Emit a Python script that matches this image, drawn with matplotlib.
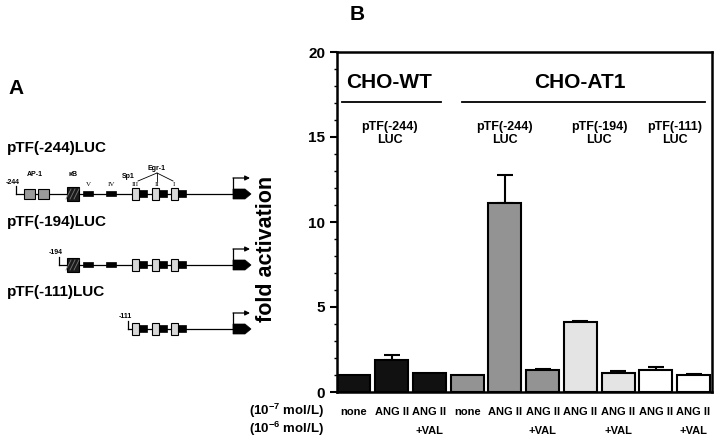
import matplotlib
matplotlib.use("Agg")
import matplotlib.pyplot as plt
from matplotlib.patches import Rectangle, Polygon
from matplotlib.transforms import blended_transform_factory
import numpy as np

plt.rcParams['font.family'] = ['Liberation Sans', 'DejaVu Sans']
plt.rcParams['font.weight'] = 'bold'
plt.rcParams['mathtext.fontset'] = 'custom'
plt.rcParams['mathtext.rm'] = 'Liberation Sans:bold'
plt.rcParams['mathtext.bf'] = 'Liberation Sans:bold'
plt.rcParams['mathtext.it'] = 'Liberation Sans:bold'

# ---------------- data (panel B) ----------------
row1_labels = ["none", "ANG II", "ANG II", "none", "ANG II", "ANG II", "ANG II", "ANG II", "ANG II", "ANG II"]
row2_labels = ["", "", "+VAL", "", "", "+VAL", "", "+VAL", "", "+VAL"]
fold_values = [1.0, 1.9, 1.1, 1.0, 11.1, 1.3, 4.1, 1.1, 1.3, 1.0]
fold_errors = [0.0, 0.25, 0.0, 0.0, 1.65, 0.08, 0.05, 0.15, 0.18, 0.07]
bar_colors = ["#111111", "#111111", "#111111",
              "#939393", "#939393", "#939393",
              "#e4e4e4", "#e4e4e4",
              "#ffffff", "#ffffff"]
yticks = [0, 5, 10, 15, 20]

# construct names for panel A
constructs = ["pTF(-244)LUC", "pTF(-194)LUC", "pTF(-111)LUC"]
construct_starts = ["-244", "-194", "-111"]

fig = plt.figure(figsize=(7.2, 4.4), dpi=100)

# ---------------- overlay (pixel coordinates) for panel A and labels ----------------
ov = fig.add_axes([0, 0, 1, 1])
ov.set_xlim(0, 720)
ov.set_ylim(440, 0)
ov.axis('off')
ov.patch.set_alpha(0)

ov.text(8, 88, "A", fontsize=15, fontweight='bold', ha='left', va='center')
ov.text(350, 14, "B", fontsize=15, fontweight='bold', ha='left', va='center')

title_y = [148, 222, 292]
line_y = [194, 265, 329]
start_x = [16, 59, 128]
for name, ty in zip(constructs, title_y):
    ov.text(7, ty, name, fontsize=11, fontweight='bold', ha='left', va='center')

def draw_construct(ov, ly, sx, label, show_ap1, show_kb):
    lw = 0.9
    ov.plot([sx, 233], [ly, ly], color='black', lw=lw, zorder=1)
    ov.plot([sx, sx], [ly - 8, ly], color='black', lw=lw, zorder=1)
    ov.text(sx - 3, ly - 12, label, fontsize=5, ha='center', va='center')
    if show_ap1:
        for x0 in (24, 38):
            ov.add_patch(Rectangle((x0, ly - 5), 11, 10, facecolor='#9a9a9a',
                                   edgecolor='black', lw=0.8, zorder=2))
    if show_kb:
        ov.add_patch(Rectangle((67, ly - 7), 12, 14, facecolor='#1a1a1a',
                               edgecolor='black', lw=0.8, zorder=2))
        for d in (-3, 1, 5):
            ov.plot([69 + d, 74 + d], [ly + 5, ly - 5], color='#777777', lw=0.6, zorder=3)
        for x0 in (83, 106):
            ov.add_patch(Rectangle((x0, ly - 2.5), 10, 5, facecolor='black',
                                   edgecolor='black', lw=0.5, zorder=2))
    for x0 in (132, 152, 171):
        ov.add_patch(Rectangle((x0 + 6, ly - 3.5), 9, 7, facecolor='black',
                               edgecolor='black', lw=0.5, zorder=2))
        ov.add_patch(Rectangle((x0, ly - 6), 7, 12, facecolor='#d8d8d8',
                               edgecolor='black', lw=0.8, zorder=3))
    ov.plot([233, 233], [ly, ly - 16], color='black', lw=0.9, zorder=2)
    ov.annotate("", xy=(250, ly - 16), xytext=(233, ly - 16),
                arrowprops=dict(arrowstyle='-|>', color='black', lw=0.9,
                                mutation_scale=7, shrinkA=0, shrinkB=0))
    ov.add_patch(Polygon([(233, ly - 5), (245, ly - 5), (251, ly), (245, ly + 5), (233, ly + 5)],
                         closed=True, facecolor='black', edgecolor='black', lw=0.5, zorder=2))

draw_construct(ov, line_y[0], start_x[0], construct_starts[0], True, True)
draw_construct(ov, line_y[1], start_x[1], construct_starts[1], False, True)
draw_construct(ov, line_y[2], start_x[2], construct_starts[2], False, False)

ly = line_y[0]
ov.text(35, ly - 19, "AP-1", fontsize=5, ha='center', va='center')
ov.text(73, ly - 19, "κB", fontsize=5, ha='center', va='center')
ov.text(128, ly - 18, "Sp1", fontsize=5, ha='center', va='center')
ov.text(157, ly - 26, "Egr-1", fontsize=5, ha='center', va='center')
for xx, rn in zip((88, 111, 135, 157, 174), ("V", "IV", "III", "II", "I")):
    ov.text(xx, ly - 10, rn, fontsize=5, ha='center', va='center',
            family='Liberation Serif', fontweight='normal')
for xx in (138, 157, 173):
    ov.plot([157, xx], [ly - 21, ly - 13], color='black', lw=0.6)

ov.text(324, 411, "(10$^{-7}$ mol/L)", fontsize=9.5, ha='right', va='center')
ov.text(324, 429, "(10$^{-6}$ mol/L)", fontsize=9.5, ha='right', va='center')

# ---------------- panel B ----------------
ax = fig.add_axes([337 / 720, 1 - 392 / 440, 375 / 720, 340 / 440])
x = np.arange(len(fold_values))
ax.bar(x, fold_values, width=0.875, color=bar_colors, edgecolor='black', linewidth=1.5, zorder=2)
for xi, v, e in zip(x, fold_values, fold_errors):
    if e > 0:
        ax.errorbar(xi, v, yerr=[[0], [e]], color='black', capsize=6, elinewidth=1.5,
                    capthick=1.5, zorder=1)
ax.set_xlim(-0.45, 9.49)
ax.set_ylim(0, 20)
ax.set_yticks(yticks)
ax.set_yticklabels([str(t) for t in yticks], fontsize=11, fontweight='bold')
ax.set_yticks(np.arange(0, 21, 1), minor=True)
ax.tick_params(axis='y', which='major', length=5, width=1.5, direction='out')
ax.tick_params(axis='y', which='minor', length=2.5, width=1, direction='out')
ax.set_xticks([])
for s in ax.spines.values():
    s.set_linewidth(1.8)
ax.set_ylabel("fold activation", fontsize=15.5, fontweight='bold')
ax.yaxis.set_label_coords(-0.16, 0.42)

tr = blended_transform_factory(ax.transData, ax.transAxes)
for xi, r1, r2 in zip(x, row1_labels, row2_labels):
    ax.text(xi, -0.059, r1, transform=tr, fontsize=8, fontweight='bold', ha='center', va='center', clip_on=False)
    if r2:
        ax.text(xi, -0.115, r2, transform=tr, fontsize=8, fontweight='bold', ha='center', va='center', clip_on=False)

ax.text(0.94, 18.2, "CHO-WT", fontsize=15, fontweight='bold', ha='center', va='center')
ax.text(6.0, 18.2, "CHO-AT1", fontsize=15, fontweight='bold', ha='center', va='center')
ax.plot([-0.32, 2.31], [17.06, 17.06], color='black', lw=1.3)
ax.plot([2.86, 9.31], [17.06, 17.06], color='black', lw=1.3)
for xc, lab in zip([0.94, 4.0, 6.5, 8.5], ["pTF(-244)\nLUC", "pTF(-244)\nLUC", "pTF(-194)\nLUC", "pTF(-111)\nLUC"]):
    ax.text(xc, 15.2, lab, fontsize=9, fontweight='bold', ha='center', va='center', linespacing=1.15)

fig.savefig("out.png", dpi=100)
